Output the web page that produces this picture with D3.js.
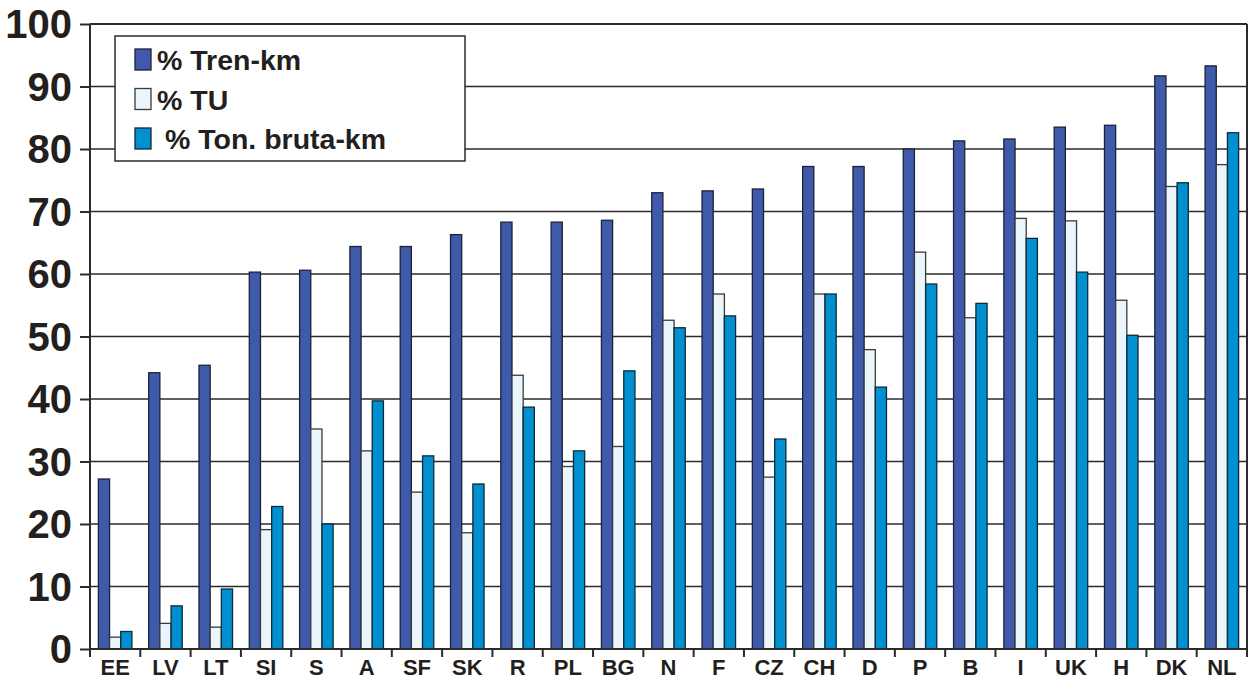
<!DOCTYPE html>
<html>
<head>
<meta charset="utf-8">
<script src="https://cdn.jsdelivr.net/npm/d3@7/dist/d3.min.js"></script>
<style>
  html, body { margin: 0; padding: 0; background: #fff; }
  svg { display: block; }
  text { font-family: "Liberation Sans", Arial, sans-serif; font-weight: bold; fill: #231f20; }
</style>
</head>
<body>
<svg id="chart" width="1248" height="680"></svg>
<script>
const categories = ["EE","LV","LT","SI","S","A","SF","SK","R","PL","BG","N","F","CZ","CH","D","P","B","I","UK","H","DK","NL"];
const seriesNames = ["% Tren-km", "% TU", " % Ton. bruta-km"];
const trenKm = [27.2,44.2,45.4,60.3,60.6,64.4,64.4,66.3,68.3,68.3,68.6,73.0,73.3,73.6,77.2,77.2,80.0,81.3,81.6,83.5,83.8,91.7,93.3];
const tu     = [1.9,4.1,3.5,19.1,35.2,31.7,25.1,18.6,43.8,29.2,32.4,52.6,56.8,27.5,56.8,47.9,63.5,53.0,68.9,68.5,55.8,74.0,77.5];
const tonKm  = [2.8,6.9,9.6,22.8,20.0,39.7,30.9,26.4,38.7,31.7,44.5,51.4,53.3,33.6,56.8,41.9,58.4,55.3,65.7,60.3,50.2,74.6,82.6];
const yTicks = [0,10,20,30,40,50,60,70,80,90,100];
const colors = ["#3f5aab", "#eaf5fc", "#008fcf"];
const strokes = ["#1e2235", "#3a3a3a", "#0f2a3a"];

const series = [trenKm, tu, tonKm];
const W = 1248, H = 680;
const m = {left: 90, right: 1, top: 24, bottom: 31};
const iw = W - m.left - m.right, ih = H - m.top - m.bottom;

const svg = d3.select("#chart");
const g = svg.append("g").attr("transform", `translate(${m.left},${m.top})`);

const x0 = d3.scaleBand().domain(categories).range([0, iw]).padding(0);
const x1 = d3.scaleBand().domain(d3.range(series.length)).range([0, x0.bandwidth()]).paddingInner(0).paddingOuter(0.75);
const y = d3.scaleLinear().domain([0, 100]).range([ih, 0]);

// gridlines
g.append("g").selectAll("line").data(yTicks.filter(t => t > 0)).join("line")
  .attr("x1", 0).attr("x2", iw).attr("y1", d => y(d)).attr("y2", d => y(d))
  .attr("stroke", "#2b2b2b").attr("stroke-width", d => d === 100 ? 2 : 1.5);
// right border
g.append("line").attr("x1", iw).attr("x2", iw).attr("y1", 0).attr("y2", ih)
  .attr("stroke", "#2b2b2b").attr("stroke-width", 2);

// bars
const rows = categories.map((c, i) => ({c, vals: series.map(s => s[i])}));
const grp = g.append("g").selectAll("g").data(rows).join("g")
  .attr("transform", d => `translate(${x0(d.c)},0)`);
grp.selectAll("rect").data(d => d.vals.map((v, k) => ({v, k}))).join("rect")
  .attr("x", d => x1(d.k)).attr("width", x1.bandwidth())
  .attr("y", d => y(d.v)).attr("height", d => ih - y(d.v))
  .attr("fill", d => colors[d.k]).attr("stroke", d => strokes[d.k]).attr("stroke-width", 1.3);

// y axis
const yAxis = g.append("g").call(d3.axisLeft(y).tickValues(yTicks).tickSize(10).tickPadding(8).tickFormat(d3.format("d")));
yAxis.select(".domain").attr("stroke", "#2b2b2b").attr("stroke-width", 2).attr("d", `M0,${ih}V0`);
yAxis.selectAll(".tick line").attr("stroke", "#2b2b2b").attr("stroke-width", 2);
yAxis.selectAll(".tick text").attr("font-size", 40).attr("font-weight", "bold").attr("fill", "#231f20").attr("dy", "0.34em")
  .attr("font-family", '"Liberation Sans", Arial, sans-serif');

// x axis
const xAxis = g.append("g").attr("transform", `translate(0,${ih})`)
  .call(d3.axisBottom(x0).tickSize(0).tickPadding(0));
xAxis.select(".domain").attr("stroke", "#2b2b2b").attr("stroke-width", 2).attr("d", `M0,0H${iw}`);
xAxis.selectAll(".tick text").attr("font-size", 22).attr("font-weight", "bold").attr("fill", "#231f20")
  .attr("dy", null).attr("y", 26).attr("font-family", '"Liberation Sans", Arial, sans-serif');
// category boundary ticks
const bounds = categories.map(c => x0(c)).concat([iw]);
xAxis.append("g").selectAll("line").data(bounds).join("line")
  .attr("x1", d => d).attr("x2", d => d).attr("y1", 0).attr("y2", 8)
  .attr("stroke", "#2b2b2b").attr("stroke-width", 2);

// legend
const lg = svg.append("g").attr("transform", "translate(115,36)");
lg.append("rect").attr("width", 350).attr("height", 125).attr("fill", "#fff")
  .attr("stroke", "#2b2b2b").attr("stroke-width", 1.5);
const items = lg.selectAll("g.item").data(seriesNames).join("g").attr("class", "item")
  .attr("transform", (d, i) => `translate(20,${13 + i * 39.5})`);
items.append("rect").attr("width", 16).attr("height", 21)
  .attr("fill", (d, i) => colors[i]).attr("stroke", (d, i) => strokes[i]).attr("stroke-width", 1.3);
items.append("text").attr("x", 22).attr("y", 21).attr("font-size", 28.5)
  .attr("xml:space", "preserve").style("white-space", "pre").text(d => d);
</script>
</body>
</html>
